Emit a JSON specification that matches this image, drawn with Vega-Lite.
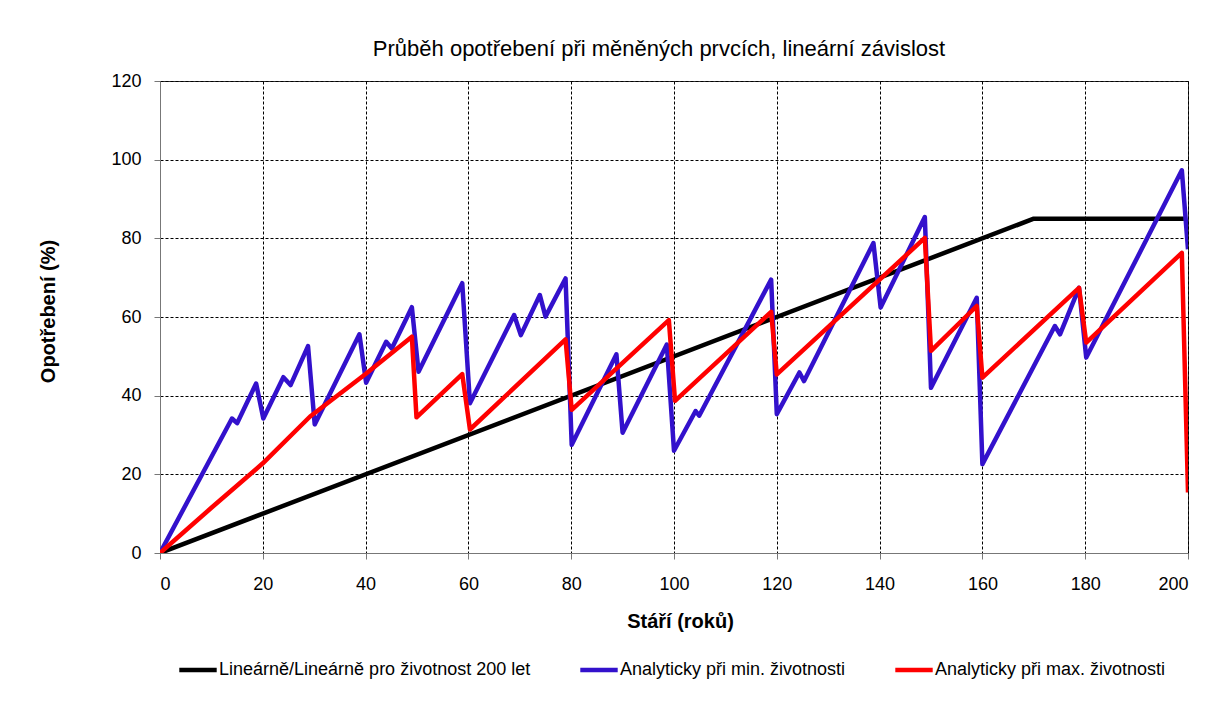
{
  "$schema": "https://vega.github.io/schema/vega-lite/v6.json",
  "autosize": {"type": "none"},
  "padding": {"left": 160, "top": 81, "right": 17, "bottom": 151},
  "width": 1028,
  "height": 472,
  "background": "white",
  "title": {
    "text": "Průběh opotřebení při měněných prvcích, lineární závislost",
    "font": "Liberation Sans",
    "fontSize": 22,
    "fontWeight": "normal",
    "color": "#000",
    "anchor": "middle",
    "frame": "group",
    "baseline": "alphabetic",
    "offset": 25,
    "dx": -15,
    "dy": 31
  },
  "config": {
    "view": {"stroke": "#333", "strokeWidth": 1},
    "axis": {
      "labelFont": "Liberation Sans",
      "labelFontSize": 18,
      "labelColor": "#000",
      "titleFont": "Liberation Sans",
      "titleFontSize": 20,
      "titleFontWeight": "bold",
      "titleColor": "#000",
      "domainColor": "#777",
      "tickColor": "#777",
      "tickSize": 6,
      "gridColor": "#000",
      "gridDash": [3, 2],
      "gridWidth": 1,
      "gridOpacity": 1
    }
  },
  "data": {
    "values": [
      {"s": "Lineárně/Lineárně pro životnost 200 let", "x": 0, "y": 0},
      {"s": "Lineárně/Lineárně pro životnost 200 let", "x": 170, "y": 85},
      {"s": "Lineárně/Lineárně pro životnost 200 let", "x": 199.2, "y": 85},

      {"s": "Analyticky při min. životnosti", "x": 0, "y": 0},
      {"s": "Analyticky při min. životnosti", "x": 14, "y": 34.2},
      {"s": "Analyticky při min. životnosti", "x": 15, "y": 33},
      {"s": "Analyticky při min. životnosti", "x": 18.7, "y": 43.1},
      {"s": "Analyticky při min. životnosti", "x": 20.1, "y": 34.2},
      {"s": "Analyticky při min. životnosti", "x": 24, "y": 44.7},
      {"s": "Analyticky při min. životnosti", "x": 25.4, "y": 42.7},
      {"s": "Analyticky při min. životnosti", "x": 28.8, "y": 52.6},
      {"s": "Analyticky při min. životnosti", "x": 30.1, "y": 32.7},
      {"s": "Analyticky při min. životnosti", "x": 38.8, "y": 55.6},
      {"s": "Analyticky při min. životnosti", "x": 40.1, "y": 43.3},
      {"s": "Analyticky při min. životnosti", "x": 44, "y": 53.7},
      {"s": "Analyticky při min. životnosti", "x": 45.1, "y": 52},
      {"s": "Analyticky při min. životnosti", "x": 49, "y": 62.5},
      {"s": "Analyticky při min. životnosti", "x": 50.3, "y": 46.1},
      {"s": "Analyticky při min. životnosti", "x": 58.8, "y": 68.6},
      {"s": "Analyticky při min. životnosti", "x": 60.3, "y": 38.1},
      {"s": "Analyticky při min. životnosti", "x": 68.9, "y": 60.5},
      {"s": "Analyticky při min. životnosti", "x": 70.2, "y": 55.4},
      {"s": "Analyticky při min. životnosti", "x": 73.9, "y": 65.6},
      {"s": "Analyticky při min. životnosti", "x": 75, "y": 60.1},
      {"s": "Analyticky při min. životnosti", "x": 78.9, "y": 69.8},
      {"s": "Analyticky při min. životnosti", "x": 80.1, "y": 27.5},
      {"s": "Analyticky při min. životnosti", "x": 88.8, "y": 50.5},
      {"s": "Analyticky při min. životnosti", "x": 90, "y": 30.6},
      {"s": "Analyticky při min. životnosti", "x": 98.6, "y": 53},
      {"s": "Analyticky při min. životnosti", "x": 100, "y": 26},
      {"s": "Analyticky při min. životnosti", "x": 104.2, "y": 36.1},
      {"s": "Analyticky při min. životnosti", "x": 104.9, "y": 34.9},
      {"s": "Analyticky při min. životnosti", "x": 118.9, "y": 69.5},
      {"s": "Analyticky při min. životnosti", "x": 120, "y": 35.3},
      {"s": "Analyticky při min. životnosti", "x": 124.4, "y": 45.9},
      {"s": "Analyticky při min. životnosti", "x": 125.3, "y": 43.7},
      {"s": "Analyticky při min. životnosti", "x": 138.8, "y": 78.8},
      {"s": "Analyticky při min. životnosti", "x": 140.2, "y": 62.4},
      {"s": "Analyticky při min. životnosti", "x": 148.8, "y": 85.4},
      {"s": "Analyticky při min. životnosti", "x": 150, "y": 42},
      {"s": "Analyticky při min. životnosti", "x": 158.9, "y": 64.9},
      {"s": "Analyticky při min. životnosti", "x": 160, "y": 22.6},
      {"s": "Analyticky při min. životnosti", "x": 174.1, "y": 57.7},
      {"s": "Analyticky při min. životnosti", "x": 175.1, "y": 55.6},
      {"s": "Analyticky při min. životnosti", "x": 178.8, "y": 67.4},
      {"s": "Analyticky při min. životnosti", "x": 180.2, "y": 49.7},
      {"s": "Analyticky při min. životnosti", "x": 198.8, "y": 97.3},
      {"s": "Analyticky při min. životnosti", "x": 200, "y": 77.2},

      {"s": "Analyticky při max. životnosti", "x": 0, "y": 0},
      {"s": "Analyticky při max. životnosti", "x": 10, "y": 11.5},
      {"s": "Analyticky při max. životnosti", "x": 20, "y": 22.8},
      {"s": "Analyticky při max. životnosti", "x": 29.2, "y": 34.7},
      {"s": "Analyticky při max. životnosti", "x": 40, "y": 45.5},
      {"s": "Analyticky při max. životnosti", "x": 49, "y": 55},
      {"s": "Analyticky při max. životnosti", "x": 49.9, "y": 34.5},
      {"s": "Analyticky při max. životnosti", "x": 58.8, "y": 45.5},
      {"s": "Analyticky při max. životnosti", "x": 60.3, "y": 31.4},
      {"s": "Analyticky při max. životnosti", "x": 78.9, "y": 54.3},
      {"s": "Analyticky při max. životnosti", "x": 80.1, "y": 36.4},
      {"s": "Analyticky při max. životnosti", "x": 99, "y": 59.2},
      {"s": "Analyticky při max. životnosti", "x": 100.2, "y": 38.7},
      {"s": "Analyticky při max. životnosti", "x": 118.9, "y": 61.3},
      {"s": "Analyticky při max. životnosti", "x": 120, "y": 45.4},
      {"s": "Analyticky při max. životnosti", "x": 148.8, "y": 80.1},
      {"s": "Analyticky při max. životnosti", "x": 150, "y": 51.4},
      {"s": "Analyticky při max. životnosti", "x": 158.9, "y": 62.8},
      {"s": "Analyticky při max. životnosti", "x": 160, "y": 44.6},
      {"s": "Analyticky při max. životnosti", "x": 178.8, "y": 67.4},
      {"s": "Analyticky při max. životnosti", "x": 180.2, "y": 53.5},
      {"s": "Analyticky při max. životnosti", "x": 198.8, "y": 76.3},
      {"s": "Analyticky při max. životnosti", "x": 200, "y": 15.4}
    ]
  },
  "mark": {"type": "line", "strokeWidth": 4.5, "strokeJoin": "round", "strokeCap": "butt", "clip": true},
  "encoding": {
    "x": {
      "field": "x",
      "type": "quantitative",
      "scale": {"domain": [0, 200], "nice": false, "zero": false},
      "axis": {
        "title": "Stáří (roků)",
        "values": [0, 20, 40, 60, 80, 100, 120, 140, 160, 180, 200],
        "labelPadding": 16,
        "titleX": 520,
        "titleY": 68,
        "titleBaseline": "middle",
        "titleAlign": "center"
      }
    },
    "y": {
      "field": "y",
      "type": "quantitative",
      "scale": {"domain": [0, 120], "nice": false},
      "axis": {
        "title": "Opotřebení (%)",
        "values": [0, 20, 40, 60, 80, 100, 120],
        "labelPadding": 13,
        "titleX": -112,
        "titleY": 230,
        "titleAngle": -90,
        "titleBaseline": "middle",
        "titleAlign": "center"
      }
    },
    "color": {
      "field": "s",
      "type": "nominal",
      "scale": {
        "domain": ["Lineárně/Lineárně pro životnost 200 let", "Analyticky při min. životnosti", "Analyticky při max. životnosti"],
        "range": ["#000000", "#3311cc", "#ff0000"]
      },
      "legend": {
        "title": null,
        "orient": "none",
        "direction": "horizontal",
        "legendX": 17,
        "legendY": 568,
        "symbolType": "stroke",
        "symbolSize": 1400,
        "symbolStrokeWidth": 4.5,
        "labelFont": "Liberation Sans",
        "labelFontSize": 18,
        "labelLimit": 0,
        "labelColor": "#000",
        "labelOffset": 0,
        "columnPadding": 40
      }
    }
  }
}
